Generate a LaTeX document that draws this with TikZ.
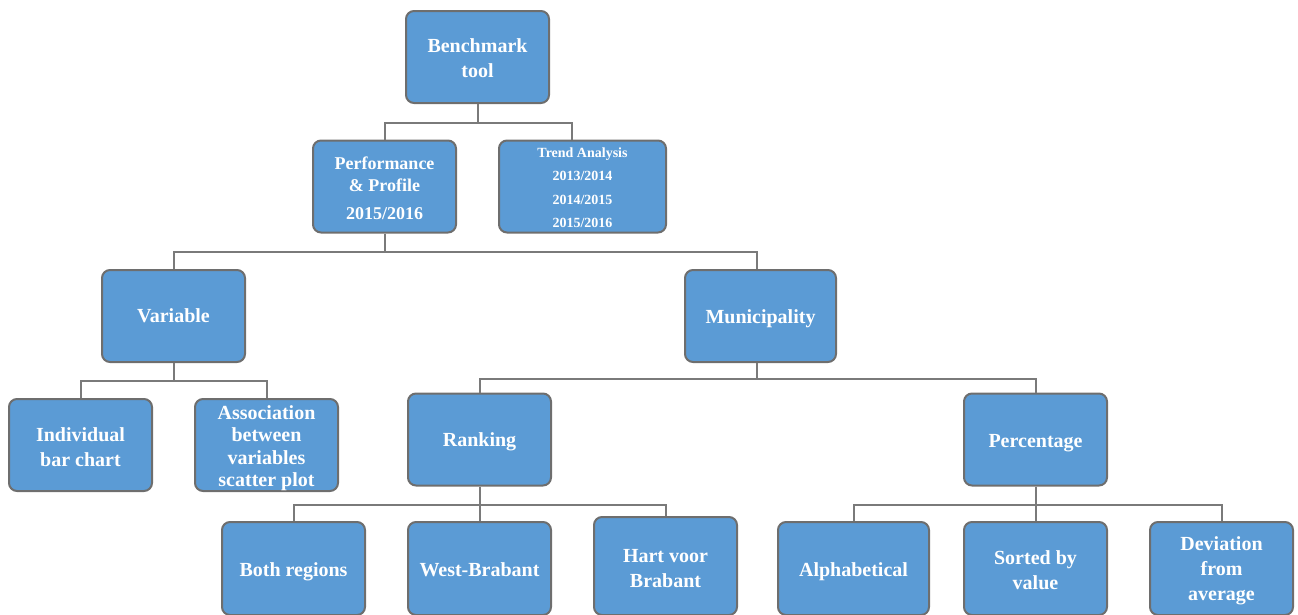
\documentclass[tikz,border=0pt]{standalone}
\usepackage{fontspec}
\setmainfont{Liberation Serif}
\definecolor{boxfill}{HTML}{5B9BD5}
\definecolor{boxborder}{HTML}{6E6E6E}
\definecolor{linkgray}{HTML}{7A7A7A}
\begin{document}
\begin{tikzpicture}[x=0.75pt,y=-0.75pt,
  box/.style={draw=boxborder, fill=boxfill, line width=1.5pt, rounded corners=6pt,
    inner sep=0pt, minimum width=107.25pt, minimum height=69pt},
  lbl/.style={text=white, align=center, inner sep=0pt,
    font=\bfseries\fontsize{15}{18.75}\selectfont},
  one/.style={lbl, anchor=base},
  multi/.style={lbl, anchor=center},
  link/.style={draw=linkgray, line width=1.5pt}]
\useasboundingbox (0,0) rectangle (1298,614);
% boxes
\node[box] (bench) at (477.5,57) {};
\node[box] (perf) at (384.5,186.5) {};
\node[box, minimum width=125.25pt] (trend) at (582.5,186.5) {};
\node[box] (var) at (173.5,316) {};
\node[box, minimum width=113.25pt] (muni) at (760.5,316) {};
\node[box] (indiv) at (80.5,445) {};
\node[box] (assoc) at (266.5,445) {};
\node[box] (rank) at (479.5,439.5) {};
\node[box] (perc) at (1035.5,439.5) {};
\node[box, minimum height=69.75pt] (both) at (293.5,568.5) {};
\node[box, minimum height=69.75pt] (west) at (479.5,568.5) {};
\node[box, minimum height=73.5pt] (hart) at (665.5,566) {};
\node[box, minimum height=69.75pt, minimum width=113.25pt] (alpha) at (853.5,568.5) {};
\node[box, minimum height=69.75pt] (sorted) at (1035.5,568.5) {};
\node[box, minimum height=69.75pt] (dev) at (1221.5,568.5) {};
% texts
\node[multi] (benchT) at ([yshift=-1.2pt]bench.center) {Benchmark\\tool};
\node[multi, font=\bfseries\fontsize{13.5}{16.5}\selectfont] (perfT) at ([yshift=-1.5pt]perf.center) {Performance\\\& Profile\\[4.5pt]2015/2016};
\node[multi, font=\bfseries\fontsize{10.5}{17.6}\selectfont] (trendT) at ([yshift=-0.8pt]trend.center) {Trend Analysis\\2013/2014\\2014/2015\\2015/2016};
\node[one] (varT) at ([yshift=-5pt]var.center) {Variable};
\node[one] (muniT) at ([yshift=-5.5pt]muni.center) {Municipality};
\node[multi] (indivT) at ([yshift=-1.5pt]indiv.center) {Individual\\bar chart};
\node[multi, font=\bfseries\fontsize{15}{16.8}\selectfont] (assocT) at ([yshift=-2.5pt]assoc.center) {Association\\between\\variables\\scatter plot};
\node[one] (rankT) at ([yshift=-5.3pt]rank.center) {Ranking};
\node[one] (percT) at ([yshift=-5.8pt]perc.center) {Percentage};
\node[one] (bothT) at ([yshift=-6pt]both.center) {Both regions};
\node[one] (westT) at ([yshift=-6pt]west.center) {West-Brabant};
\node[multi] (hartT) at ([yshift=-1.6pt]hart.center) {Hart voor\\Brabant};
\node[one] (alphaT) at ([yshift=-6pt]alpha.center) {Alphabetical};
\node[multi] (sortedT) at ([yshift=-1.5pt]sorted.center) {Sorted by\\value};
\node[multi, font=\bfseries\fontsize{15}{19}\selectfont] (devT) at ([yshift=-1.6pt]dev.center) {Deviation\\from\\average};
% connectors
\draw[link] (bench.south) -- ++(0,19) coordinate (b1) -| (perf.north);
\draw[link] (b1) -| ([xshift=-8.25pt]trend.north);
\draw[link] (perf.south) -- ++(0,18) coordinate (p1) -| (var.north);
\draw[link] (p1) -| ([xshift=-2.6pt]muni.north);
\draw[link] (var.south) -- ++(0,18) coordinate (v1) -| (indiv.north);
\draw[link] (v1) -| (assoc.north);
\draw[link] ([xshift=-2.6pt]muni.south) -- ++(0,16) coordinate (m1) -| (rank.north);
\draw[link] (m1) -| (perc.north);
\draw[link] (rank.south) -- ++(0,18) coordinate (r1) -| (both.north);
\draw[link] (r1) -- (west.north);
\draw[link] (r1) -| (hart.north);
\draw[link] (perc.south) -- ++(0,18) coordinate (c1) -| (alpha.north);
\draw[link] (c1) -- (sorted.north);
\draw[link] (c1) -| (dev.north);
\end{tikzpicture}
\end{document}
